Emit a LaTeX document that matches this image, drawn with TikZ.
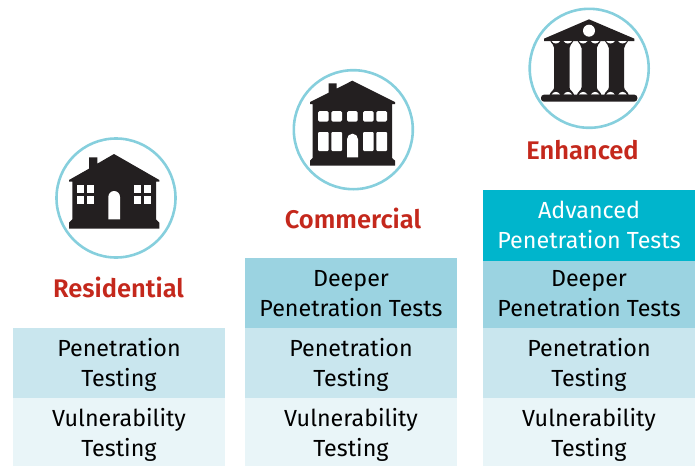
\documentclass[tikz,border=0pt]{standalone}
\usepackage{fontspec}
\setmainfont{Fira Sans}[BoldFont=Fira Sans SemiBold]
\definecolor{tierA}{HTML}{E9F5F8}
\definecolor{tierB}{HTML}{C9E6EE}
\definecolor{tierC}{HTML}{9BD3E1}
\definecolor{tierD}{HTML}{00B5CC}
\definecolor{ring}{HTML}{86CFDD}
\definecolor{redlabel}{HTML}{C4281C}
\definecolor{ink}{HTML}{231F20}
\newcommand{\dropby}[1]{\rule{0pt}{#1pt}}
\newcommand{\liftby}[1]{\rule[-#1pt]{0pt}{#1pt}}
\tikzset{
  tier/.style={anchor=north west,minimum width=212pt,inner sep=0pt,outer sep=0pt,align=center,
    font=\fontsize{23.3}{30}\selectfont,text=black},
  ringnode/.style={circle,draw=ring,line width=2.6pt,minimum size=119pt,inner sep=0pt},
  title/.style={font=\fontsize{25.5}{30}\selectfont\bfseries,text=redlabel},
  icon/.style={x=0.33333pt,y=-0.33333pt},
  solid ink/.style={fill=ink,draw=none},
  hole/.style={fill=white,draw=none}
}
\begin{document}
\begin{tikzpicture}[x=1pt,y=-1pt]
\useasboundingbox (0,0) rectangle (696,466);
% tiers
\node[tier,fill=tierA,minimum height=68pt] (a1) at (13,398) {\dropby{24}Vulnerability\\Testing};
\node[tier,fill=tierB,minimum height=70pt] (b1) at (13,328) {\dropby{22}Penetration\\Testing};
\node[tier,fill=tierA,minimum height=68pt] (a2) at (245,398) {\dropby{24}Vulnerability\\Testing};
\node[tier,fill=tierB,minimum height=70pt] (b2) at (245,328) {\dropby{22}Penetration\\Testing};
\node[tier,fill=tierC,minimum height=70pt] (c2) at (245,258) {\dropby{18}Deeper\\Penetration Tests};
\node[tier,fill=tierA,minimum height=68pt] (a3) at (483,398) {\dropby{24}Vulnerability\\Testing};
\node[tier,fill=tierB,minimum height=70pt] (b3) at (483,328) {\dropby{22}Penetration\\Testing};
\node[tier,fill=tierC,minimum height=70pt] (c3) at (483,258) {\dropby{18}Deeper\\Penetration Tests};
\node[tier,fill=tierD,minimum height=71pt,text=white] (d3) at (483,190) {Advanced\\Penetration Tests\liftby{2}};
% titles
\node[title] (t1) at (118.5,287) {Residential};
\node[title] (t2) at (353,218) {Commercial};
\node[title] (t3) at (582.5,150) {Enhanced};
% rings
\node[ringnode] (r1) at (116,198) {};
\node[ringnode] (r2) at (353.3,129.7) {};
\node[ringnode] (r3) at (589.2,68.3) {};
% residential
\begin{scope}[icon,shift={(40pt,-130pt)}]
\fill[solid ink] (222,72) -- (358,150) -- (358,155) -- (348,155) -- (348,268) -- (358,278) -- (358,296) -- (87,296) -- (87,278) -- (97,268) -- (97,155) -- (87,155) -- (87,150) -- (147,116) -- (147,82) -- (172,82) -- (172,101) -- cycle;
\foreach \wx in {112,142,282,312} \foreach \wy in {165,198}
  \fill[hole] (\wx,\wy) rectangle ++(21,24);
\fill[hole] (205,268) -- (205,201) arc[start angle=180,end angle=360,x radius=17.5,y radius=18] -- (240,268) -- cycle;
\end{scope}
% commercial
\begin{scope}[icon,shift={(280pt,-60pt)}]
\fill[solid ink] (217,62) -- (345,126) -- (345,132) -- (336,132) -- (336,294) -- (345,302) -- (345,317) -- (90,317) -- (90,302) -- (98,294) -- (98,132) -- (90,132) -- (90,126) -- (146,98) -- (146,70) -- (170,70) -- (170,86) -- cycle;
\foreach \wx/\ww in {114/32,154/32,201/32,249/32,289/32}
  \fill[hole,rounded corners=1.5pt] (\wx,153) rectangle ++(\ww,32);
\foreach \wx in {114,154,249,289}
  \fill[hole,rounded corners=1pt] (\wx,216) rectangle ++(32,57);
\fill[hole] (201,292) -- (201,238) arc[start angle=180,end angle=360,x radius=16.5,y radius=17] -- (234,292) -- cycle;
\end{scope}
% enhanced
\begin{scope}[icon,shift={(515pt,0pt)}]
\fill[solid ink] (222,58) -- (358,116) -- (358,123) -- (87,123) -- (87,116) -- cycle;
\fill[hole] (222,92) circle[radius=18];
\foreach \cx in {140.5,222.5,304.5} {
  \fill[solid ink] (\cx-36,120) -- (\cx+36,120) .. controls (\cx+30,134) and (\cx+23,134) .. (\cx+23,144) -- (\cx+23,262) .. controls (\cx+23,272) and (\cx+34,272) .. (\cx+38,288) -- (\cx-38,288) .. controls (\cx-34,272) and (\cx-23,272) .. (\cx-23,262) -- (\cx-23,144) .. controls (\cx-23,134) and (\cx-30,134) .. (\cx-36,120) -- cycle;
  \foreach \s in {-1,1} {
    \fill[hole] (\cx+\s*18-13,123) .. controls (\cx+\s*18-7,133) and (\cx+\s*18+7,133) .. (\cx+\s*18+13,123) -- cycle;
    \fill[hole] (\cx+\s*18-13,284) .. controls (\cx+\s*18-7,273) and (\cx+\s*18+7,273) .. (\cx+\s*18+13,284) -- cycle;
  }
}
\fill[solid ink,rounded corners=3pt] (78,305) -- (78,284) -- (367,284) -- (367,305) -- cycle;
\end{scope}
\end{tikzpicture}
\end{document}
